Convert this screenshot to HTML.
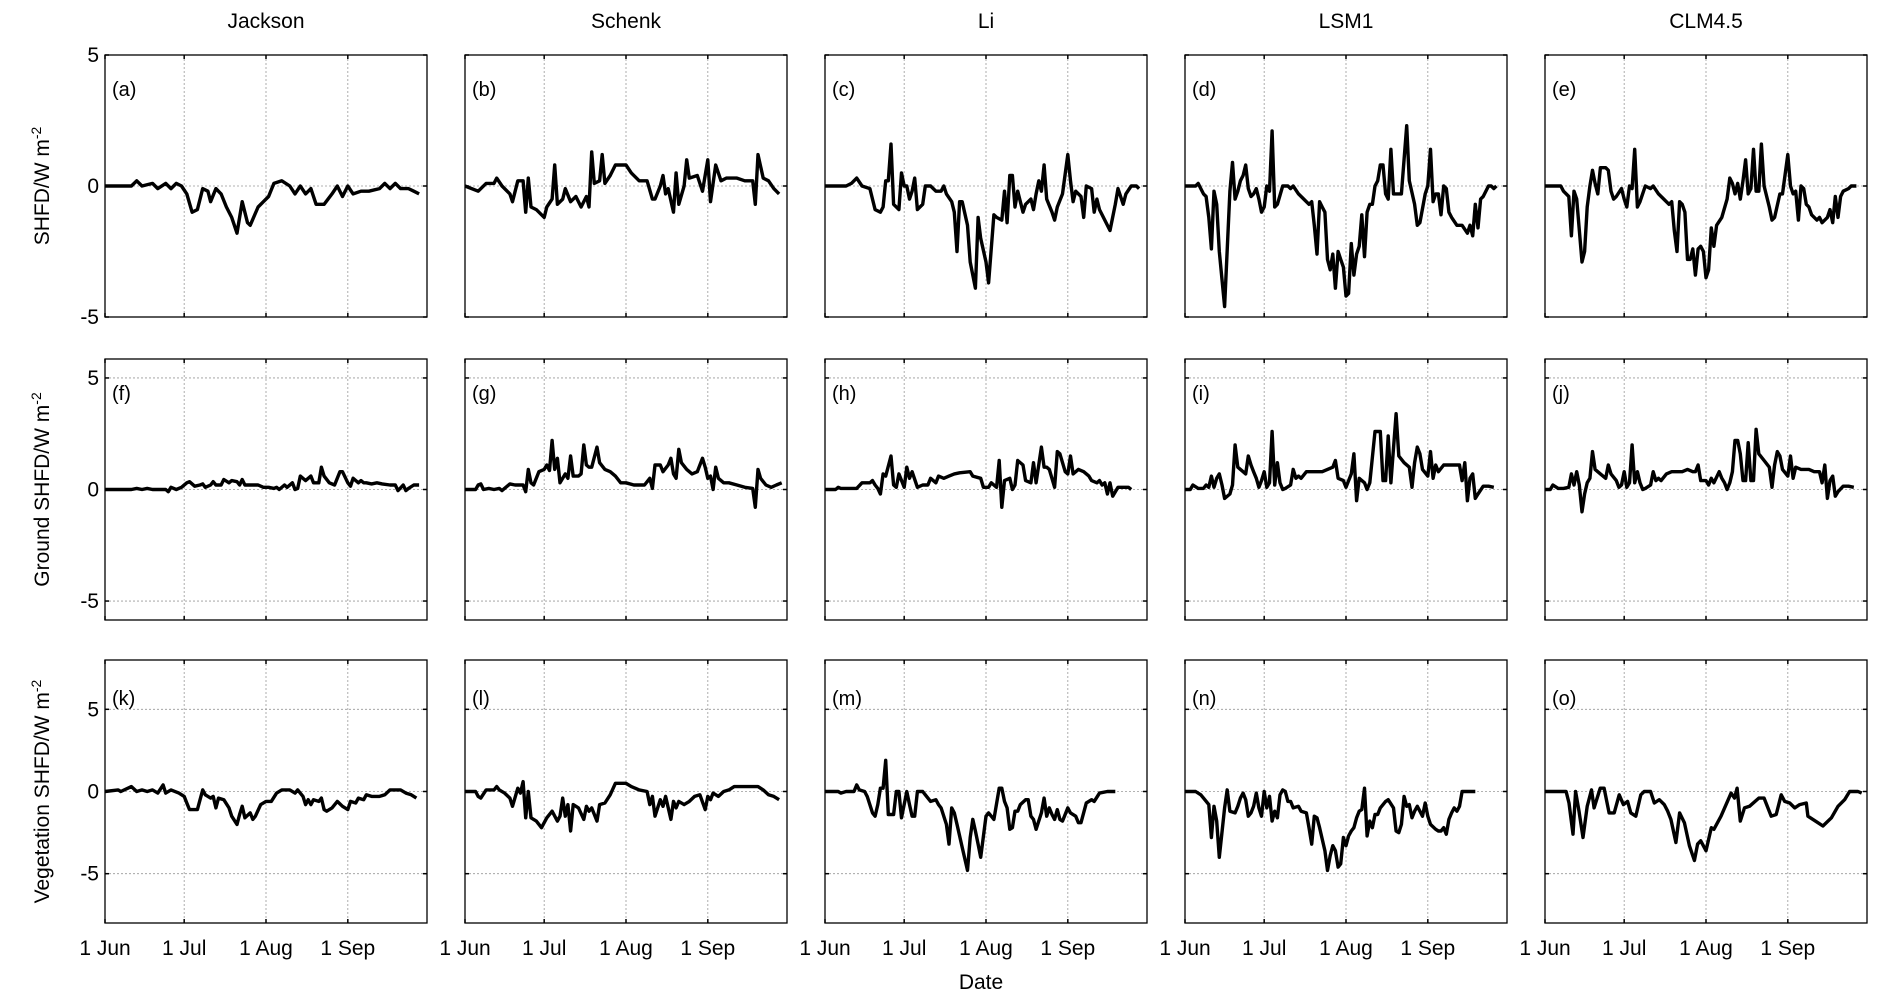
<!DOCTYPE html>
<html><head><meta charset="utf-8">
<style>
html,body{margin:0;padding:0;background:#fff;}
svg{display:block;font-family:"Liberation Sans",Arial,sans-serif;}
</style></head>
<body>
<svg id="fig" width="1888" height="1004" viewBox="0 0 1888 1004" xmlns="http://www.w3.org/2000/svg"></svg>
<script>
// ---- data (day index from 1 Jun, value in W m-2) ----
const columnTitles = ["Jackson","Schenk","Li","LSM1","CLM4.5"];
const rowTitles = ["SHFD/W m","Ground SHFD/W m","Vegetation SHFD/W m"];
const panelLetters = ["a","b","c","d","e","f","g","h","i","j","k","l","m","n","o"];
const xTickDays = [0,30,61,92];
const xTickLabels = ["1 Jun","1 Jul","1 Aug","1 Sep"];
const yTickValues = [5,0,-5];
const yTickLabels = ["5","0","-5"];
const yLimits = [5,5.85,8];

const daysA=[0,10,12,14,18,20,23,25,27,29,31,33,35,37,39,40,42,44,46,48,50,52,54,55,58,60,62,64,67,70,72,74,76,78,80,83,86,88,90,92,94,97,100,104,106,108,110,112,115,117,119];
const valsA=[0,0,0.2,0,0.1,-0.1,0.1,-0.1,0.1,0,-0.3,-1.0,-0.9,-0.1,-0.2,-0.6,-0.1,-0.3,-0.8,-1.2,-1.8,-0.6,-1.4,-1.5,-0.8,-0.6,-0.4,0.1,0.2,0,-0.3,0,-0.3,-0.1,-0.7,-0.7,-0.3,0,-0.4,0,-0.3,-0.2,-0.2,-0.1,0.1,-0.1,0.1,-0.1,-0.1,-0.2,-0.3];
const daysB=[0,5,8,11,12,14,17,18,20,22,23,24,25,27,30,31,33,34,35,37,38,40,42,44,46,47,48,49,51,52,53,55,57,59,61,63,66,69,71,72,74,75,76,77,79,80,81,83,84,85,88,90,92,93,95,97,99,103,106,109,110,111,113,115,117,119];
const valsB=[0,-0.2,0.1,0.1,0.3,0,-0.3,-0.6,0.2,0.2,-1.0,0.3,-0.8,-0.9,-1.2,-0.8,-0.5,0.8,-0.7,-0.5,-0.1,-0.6,-0.4,-0.8,-0.4,-0.8,1.3,0.1,0.2,1.2,0.1,0.4,0.8,0.8,0.8,0.5,0.2,0.2,-0.5,-0.5,0,0.4,-0.3,-0.1,-1.0,0.5,-0.7,0,1.0,0.3,0.4,-0.2,1.0,-0.6,0.8,0.2,0.3,0.3,0.2,0.2,-0.7,1.2,0.3,0.2,-0.1,-0.3];
const daysC=[0,8,10,12,14,17,19,21,22,23,24,25,26,28,29,30,31,32,33,34,35,37,38,40,42,44,45,46,48,49,50,51,52,54,55,57,58,59,61,62,64,65,67,68,69,70,71,72,73,75,76,78,79,80,81,82,83,84,86,87,88,90,92,93,94,95,97,98,99,101,102,103,104,106,108,110,111,113,114,116,118,119];
const valsC=[0,0,0.1,0.3,0,-0.1,-0.9,-1.0,-0.8,0.2,0.2,1.6,-0.7,-0.9,0.5,0,0,-0.5,-0.2,0.3,-0.9,-0.7,0,0,-0.2,-0.2,0,-0.3,-0.6,-1.0,-2.5,-0.6,-0.6,-1.5,-2.9,-3.9,-1.2,-2.0,-2.9,-3.7,-1.1,-1.2,-1.3,-0.2,-1.4,0.4,0.4,-0.8,-0.2,-1.0,-0.7,-0.5,-0.9,-0.3,0.2,-0.2,0.8,-0.5,-1.0,-1.3,-0.8,-0.3,1.2,0.2,-0.6,-0.2,-0.4,-1.2,0,-0.1,-1.0,-0.5,-0.9,-1.3,-1.7,-0.7,-0.1,-0.7,-0.3,0,0,-0.1];
const daysD=[0,4,5,6,7,8,9,10,11,12,13,15,17,18,19,20,21,22,23,24,25,26,27,28,29,30,31,32,33,34,35,37,39,40,41,43,45,47,48,49,50,51,52,53,54,55,56,57,58,59,60,61,62,63,64,65,66,67,68,69,70,71,72,73,74,75,76,77,78,79,80,82,84,85,87,88,89,91,92,93,94,95,96,97,98,99,100,101,103,105,107,108,109,110,111,112,113,115,116,117,118];
const valsD=[0,0,0.1,-0.1,-0.3,-0.4,-1.2,-2.4,-0.2,-0.7,-2.5,-4.6,-0.2,0.9,-0.5,-0.2,0.2,0.4,0.8,-0.1,-0.4,-0.3,-0.1,-0.5,-1.0,-0.8,0,-0.2,2.1,-0.8,-0.7,0,0,-0.1,0,-0.3,-0.5,-0.7,-0.6,-1.5,-2.6,-0.6,-0.8,-1.0,-2.8,-3.2,-2.6,-3.9,-2.5,-2.8,-3.1,-4.2,-4.1,-2.2,-3.4,-2.6,-2.3,-1.1,-2.7,-1.0,-0.7,-0.7,0,0.2,0.8,0.8,-0.3,-0.5,1.4,-0.3,-0.3,-0.3,2.3,0.2,-0.7,-1.5,-1.4,-0.3,0,1.4,-0.6,-0.3,-0.3,-1.1,0,-0.1,-1.0,-1.2,-1.5,-1.5,-1.8,-1.5,-1.9,-0.7,-1.6,-0.5,-0.4,0,0,-0.1,0];
const daysE=[0,4,6,7,9,10,11,12,14,15,16,17,18,19,20,21,23,24,25,26,27,29,30,31,32,33,34,35,36,38,40,41,43,45,47,48,49,50,51,52,53,54,55,56,57,58,59,60,61,62,63,64,65,67,69,70,71,72,73,74,75,76,77,78,79,80,81,82,83,85,86,87,89,90,92,93,94,95,96,97,98,99,100,101,103,104,105,107,108,109,110,111,112,113,115,116,118];
const valsE=[0,0,0,-0.2,-0.4,-1.9,-0.2,-0.5,-2.9,-2.5,-0.8,0,0.6,0.1,-0.3,0.7,0.7,0.6,-0.2,-0.5,-0.4,-0.1,-0.5,-0.8,0,-0.1,1.4,-0.8,-0.6,0,-0.1,0,-0.3,-0.5,-0.7,-0.6,-1.7,-2.5,-0.6,-0.7,-1.0,-2.8,-2.8,-2.4,-3.4,-2.4,-2.3,-2.5,-3.5,-3.2,-1.6,-2.3,-1.5,-1.2,-0.5,0.3,0.1,-0.3,0.1,-0.5,0.2,1.0,-0.3,-0.1,1.4,-0.2,-0.2,1.6,0,-0.8,-1.3,-1.2,-0.3,-0.3,1.2,0,-0.3,-0.2,-1.3,0,-0.1,-0.7,-0.8,-1.1,-1.3,-1.2,-1.4,-1.2,-0.9,-1.4,-0.4,-1.2,-0.4,-0.2,-0.1,0,0];
const daysF=[0,10,12,14,16,18,23,24,25,27,29,31,32,34,36,37,38,40,41,42,44,45,47,48,50,51,52,53,55,58,60,62,64,65,66,68,69,71,72,73,74,76,78,79,81,82,83,85,87,89,90,92,93,94,96,97,98,99,101,103,105,108,110,111,113,114,115,117,119];
const valsF=[0,0,0.05,0,0.05,0,0,-0.1,0.1,0,0.1,0.3,0.35,0.15,0.2,0.25,0.1,0.2,0.35,0.2,0.2,0.45,0.3,0.4,0.35,0.2,0.45,0.2,0.2,0.2,0.1,0.1,0.05,0.1,0,0.2,0.1,0.3,0,0.05,0.6,0.4,0.6,0.3,0.3,1.0,0.6,0.3,0.2,0.8,0.8,0.3,0.15,0.5,0.3,0.4,0.3,0.3,0.25,0.3,0.25,0.2,0.2,-0.05,0.2,-0.05,0.05,0.2,0.2];
const daysG=[0,4,5,6,7,9,11,13,14,17,19,22,23,24,25,26,28,30,31,32,33,34,35,36,38,39,40,41,43,44,45,46,47,48,50,51,53,55,57,59,61,64,68,70,71,72,74,75,77,78,79,80,81,82,84,86,88,90,91,92,93,94,95,96,98,100,103,106,109,110,111,112,114,116,118,120];
const valsG=[0,0,0.2,0.25,0,0.05,0,0.05,-0.05,0.25,0.2,0.2,-0.1,0.9,0.3,0.2,0.8,0.9,1.1,0.85,2.2,0.9,1.4,0.3,0.7,0.5,1.5,0.6,0.6,0.7,2.0,1.1,1.0,1.0,1.9,1.2,0.9,0.8,0.6,0.3,0.3,0.2,0.2,0.5,0.05,1.1,1.1,0.8,1.1,1.4,0.7,0.5,1.8,1.2,0.9,0.7,0.8,1.4,1.0,0.5,0.6,0,1.0,0.5,0.3,0.3,0.2,0.1,0.05,-0.8,0.9,0.5,0.2,0.1,0.2,0.3];
const daysH=[0,4,5,6,12,14,17,18,19,20,21,22,23,25,26,27,28,30,31,32,33,35,37,39,40,42,43,45,47,49,51,55,56,59,60,62,63,65,66,67,68,70,71,72,73,75,76,78,79,80,82,83,84,85,87,88,89,91,92,93,94,96,98,100,101,103,104,105,106,107,108,109,111,113,115,116];
const valsH=[0,0,0.1,0.05,0.05,0.3,0.3,0.4,0.2,0.05,-0.2,0.7,0.6,1.5,0.2,0.1,0.7,0.1,1.0,0.5,0.8,0.1,0.2,0.2,0.5,0.3,0.6,0.5,0.6,0.7,0.75,0.8,0.6,0.5,0.1,0.1,0.3,0.1,1.3,-0.8,0.4,0.5,0,0.2,1.3,1.1,0.4,0.3,1.2,0.3,1.9,1.0,1.0,0.9,0.1,1.7,1.6,0.8,0.7,1.5,0.7,0.9,0.8,0.6,0.4,0.3,0.4,0.2,0.3,-0.2,0.3,-0.3,0.1,0.1,0.1,0];
const daysI=[0,2,3,5,7,8,9,10,11,12,13,14,15,17,18,19,20,22,23,24,25,26,27,28,29,30,31,32,33,34,35,36,37,38,40,41,42,43,44,46,48,50,52,54,56,57,58,60,61,63,64,65,66,68,69,70,72,74,75,76,77,78,80,81,83,85,86,87,88,89,90,92,93,94,95,96,98,104,105,106,107,108,109,110,111,113,115,117];
const valsI=[0,0,0.2,0.05,0.05,0.2,0.1,0.6,0.1,0.5,0.7,0.2,-0.4,-0.2,0.2,2.0,1.0,0.8,0.7,1.5,1.1,0.8,0.5,0.1,0.4,0.8,0.1,0.3,2.6,0.2,1.2,0.3,0,0.05,0.2,0.9,0.5,0.6,0.5,0.8,0.8,0.8,0.8,0.9,1.0,1.3,0.5,0.4,0.1,0.7,1.6,-0.5,0.5,0.3,0,0.3,2.6,2.6,0.4,0.4,2.4,0.3,3.4,1.5,1.2,1.0,0.1,1.2,1.9,1.6,0.9,0.6,1.7,0.5,1.1,0.8,1.1,1.1,0.4,1.2,-0.5,0.5,0.7,-0.4,-0.2,0.15,0.15,0.1];
const daysJ=[0,2,3,5,7,9,10,11,12,13,14,15,16,17,18,19,21,23,24,25,27,28,29,30,31,32,33,34,35,36,37,38,40,41,42,43,44,46,48,50,52,54,56,57,58,59,61,62,63,64,66,67,68,69,70,71,72,73,74,75,76,77,78,79,80,81,83,85,86,87,88,89,90,92,93,94,95,97,100,102,104,105,106,107,108,109,110,111,113,115,117];
const valsJ=[0,0,0.2,0.05,0.05,0.1,0.7,0.2,0.8,0.2,-1.0,-0.2,0.3,0.5,1.7,0.9,0.7,0.5,1.1,0.7,0.4,0.1,0.2,0.8,0.1,0.3,2.0,0.3,0.8,0.3,0,0.05,0.2,0.8,0.4,0.5,0.4,0.7,0.8,0.8,0.8,0.9,0.8,0.8,1.1,0.4,0.4,0.2,0.5,0.3,0.8,0.5,0.3,0,0.3,0.8,2.2,2.2,1.6,0.4,0.4,2.1,0.4,0.4,2.7,1.6,1.3,1.0,0.1,1.1,1.7,1.5,0.9,0.6,1.5,0.5,1.0,0.9,0.9,0.8,0.8,0.3,1.1,-0.4,0.4,0.6,-0.3,-0.1,0.15,0.15,0.1];
const daysK=[0,5,6,10,12,14,16,18,20,22,23,25,28,30,31,32,35,37,38,40,41,42,43,45,47,48,50,51,52,53,55,56,57,59,61,63,65,67,70,72,73,75,76,77,78,79,81,82,83,84,86,88,90,92,93,95,96,98,99,101,104,106,108,112,114,116,118];
const valsK=[0,0.1,0,0.3,0,0.1,0,0.1,-0.1,0.4,-0.1,0.1,-0.1,-0.3,-0.7,-1.1,-1.1,0.1,-0.2,-0.4,-0.3,-1.0,-0.4,-0.5,-1.0,-1.5,-2.0,-1.4,-0.9,-1.6,-1.3,-1.7,-1.5,-0.8,-0.6,-0.6,-0.1,0.1,0.1,-0.1,0.1,-0.3,-0.8,-0.5,-0.8,-0.5,-0.6,-0.4,-1.1,-1.2,-1.0,-0.6,-0.9,-1.1,-0.6,-0.7,-0.4,-0.5,-0.2,-0.3,-0.3,-0.2,0.1,0.1,-0.1,-0.2,-0.4];
const daysL=[0,4,5,6,8,11,12,13,15,17,18,20,21,22,23,24,25,27,29,31,33,35,36,37,38,39,40,41,43,45,46,47,48,50,51,53,55,57,59,61,63,66,69,70,71,72,74,75,76,78,79,80,81,83,85,87,89,91,92,93,94,96,98,100,102,105,108,111,113,115,117,119];
const valsL=[0,0,-0.3,-0.4,0.1,0.1,0.3,0.1,-0.1,-0.4,-0.9,0.2,-0.1,0.6,-1.6,0,-1.6,-1.8,-2.2,-1.6,-1.2,-1.8,-1.5,-0.4,-1.5,-0.8,-2.4,-0.8,-1.0,-1.7,-0.9,-1.2,-1.0,-1.8,-0.8,-0.7,-0.2,0.5,0.5,0.5,0.3,0.1,0,-0.8,-0.3,-1.5,-0.5,-0.9,-0.3,-1.7,-0.6,-1.0,-0.6,-0.8,-0.6,-0.3,-0.2,-1.1,-0.3,-0.5,-0.1,-0.3,0,0.1,0.3,0.3,0.3,0.3,0.1,-0.2,-0.3,-0.5];
const daysM=[0,5,6,8,11,12,13,15,16,18,19,20,21,22,23,24,26,27,28,29,31,32,33,34,35,37,38,40,42,43,44,46,47,48,49,50,52,54,55,56,57,58,59,61,62,63,64,66,67,68,69,70,71,72,73,74,76,77,78,79,80,82,83,84,85,86,87,88,89,90,92,93,95,96,97,99,101,102,104,107,110];
const valsM=[0,0,-0.1,0,0,0.4,0.1,0,-0.3,-1.3,-1.5,-0.8,0.2,0.2,1.9,-1.4,-1.4,0,0,-1.6,0,-0.8,-1.5,-1.5,0,0,-0.2,-0.6,-0.5,-0.8,-1.0,-2.0,-3.2,-1.0,-1.3,-2.0,-3.4,-4.8,-2.8,-1.7,-2.4,-3.2,-4.0,-1.5,-1.3,-1.5,-1.7,0.2,0.2,-0.6,-1.0,-2.3,-2.2,-1.2,-1.2,-0.8,-0.5,-0.5,-1.5,-1.7,-2.3,-1.3,-0.4,-1.5,-1.0,-1.4,-1.7,-1.1,-1.7,-1.8,-1.0,-1.3,-1.5,-1.9,-1.9,-0.7,-0.5,-0.6,-0.1,0,0];
const daysN=[0,4,6,7,9,10,11,12,13,15,16,17,19,20,21,22,23,24,25,26,27,28,29,30,31,32,33,34,35,36,37,38,39,40,41,43,44,46,47,48,49,50,51,53,54,55,56,57,58,59,60,61,62,63,64,65,66,67,68,69,70,71,72,73,74,76,77,79,80,81,82,83,84,85,86,87,88,89,90,91,92,93,95,96,97,98,99,100,101,102,103,104,105,107,109,110];
const valsN=[0,0,-0.2,-0.4,-0.8,-2.8,-0.9,-1.8,-4.0,-1.0,0.1,-1.2,-1.3,-0.9,-0.4,-0.1,-0.5,-1.5,-1.3,-0.9,-0.1,-1.0,-1.5,0,-1.0,-0.3,-1.8,-1.2,-1.6,-0.2,0.1,0,-0.6,-0.6,-1.0,-0.9,-1.2,-1.3,-2.2,-3.2,-1.5,-1.6,-2.2,-3.6,-4.8,-3.9,-3.3,-3.6,-4.6,-4.4,-2.8,-3.3,-2.7,-2.4,-2.2,-1.6,-1.2,-1.1,0.2,-2.7,-1.8,-2.2,-1.4,-1.4,-1.0,-0.6,-0.5,-1.0,-2.4,-2.5,-2.0,-0.3,-0.9,-0.8,-1.6,-1.2,-0.9,-1.2,-1.5,-0.7,-1.5,-2.0,-2.3,-2.4,-2.4,-2.2,-2.6,-1.7,-1.3,-1.0,-1.2,-0.9,0,0,0,0];
const daysO=[0,4.7,8,9.1,10.6,11.6,12.9,14.4,16,17.6,18.6,20.9,22.4,24.3,26.2,28.1,29.7,31.3,32.5,34.4,36.3,37.6,40,41.4,43.3,45.2,46.5,47.7,49.6,51,52.8,54.7,56.6,57.8,59,61,63,64,66.7,70.5,71.8,72.8,74,75.6,77.5,81,83,85.7,87.6,89.5,90.8,92.7,94.6,96.5,99,99.6,103.4,105.3,108.5,111,113.5,115.4,118.6,120];
const valsO=[0,0,0,-0.7,-2.6,0,-1.2,-2.8,-0.9,0.1,-1.0,0.2,0.2,-1.3,-1.3,-0.2,-0.8,-0.6,-1.3,-1.5,-0.2,0,0,-0.7,-0.5,-0.8,-1.2,-1.7,-3.1,-1.3,-1.9,-3.3,-4.2,-3.2,-3.0,-3.6,-2.2,-2.3,-1.5,-0.1,-0.4,0.2,-1.8,-1.0,-0.9,-0.4,-0.4,-1.5,-1.4,-0.2,-0.6,-0.7,-1.0,-0.8,-0.7,-1.5,-1.9,-2.1,-1.6,-0.9,-0.5,0,0,-0.1];

const panelDays=[daysA,daysB,daysC,daysD,daysE,daysF,daysG,daysH,daysI,daysJ,daysK,daysL,daysM,daysN,daysO];
const panelVals=[valsA,valsB,valsC,valsD,valsE,valsF,valsG,valsH,valsI,valsJ,valsK,valsL,valsM,valsN,valsO];

// ---- layout ----
const NS="http://www.w3.org/2000/svg";
const svg=document.getElementById('fig');
const colLeft=[105,465,825,1185,1545], panelW=322;
const rowTop=[55,359,660], rowH=[262,261,263];
const dayMax=122;
function mk(tag,attrs,parent){const e=document.createElementNS(NS,tag);for(const k in attrs)e.setAttribute(k,attrs[k]);(parent||svg).appendChild(e);return e;}

for(let c=0;c<5;c++){
  const t=mk('text',{x:colLeft[c]+panelW/2,y:28,'text-anchor':'middle','font-size':21,fill:'#000'});
  t.textContent=columnTitles[c];
  
  
}
for(let r=0;r<3;r++){
  const cy=rowTop[r]+rowH[r]/2;
  const t=mk('text',{x:0,y:0,'text-anchor':'middle','font-size':21,fill:'#000',transform:`translate(49,${cy}) rotate(-90)`});
  t.textContent=rowTitles[r];
  const sup=document.createElementNS(NS,'tspan');sup.setAttribute('dy',-8);sup.setAttribute('font-size',14);sup.textContent='-2';t.appendChild(sup);
  
  
}
const dl=mk('text',{x:981,y:989,'text-anchor':'middle','font-size':21,fill:'#000'});
dl.textContent='Date';



for(let r=0;r<3;r++){
  for(let c=0;c<5;c++){
    const idx=r*5+c;
    const x0=colLeft[c], y0=rowTop[r], h=rowH[r], lim=yLimits[r];
    const xs=d=>x0+d/dayMax*panelW;
    const ys=v=>y0+(lim-v)/(2*lim)*h;
    const g=mk('g',{});
    
    
    // grid
    xTickDays.forEach((d,i)=>{ if(d>0){ const l=mk('line',{x1:xs(d),x2:xs(d),y1:y0,y2:y0+h,stroke:'#999','stroke-width':0.8,'stroke-dasharray':'2,2'},g);   }});
    yTickValues.forEach(v=>{ if(Math.abs(v)<lim-0.01){ const l=mk('line',{x1:x0,x2:x0+panelW,y1:ys(v),y2:ys(v),stroke:'#999','stroke-width':0.8,'stroke-dasharray':'2,2'},g);   }});
    // box
    const box=mk('rect',{x:x0,y:y0,width:panelW,height:h,fill:'none',stroke:'#000','stroke-width':1.3},g);
    
    
    // ticks
    xTickDays.forEach(d=>{ mk('line',{x1:xs(d),x2:xs(d),y1:y0+h,y2:y0+h-4,stroke:'#000','stroke-width':1.5},g); mk('line',{x1:xs(d),x2:xs(d),y1:y0,y2:y0+4,stroke:'#000','stroke-width':1.5},g); });
    yTickValues.forEach(v=>{ mk('line',{x1:x0,x2:x0+4,y1:ys(v),y2:ys(v),stroke:'#000','stroke-width':1.5},g); mk('line',{x1:x0+panelW,x2:x0+panelW-4,y1:ys(v),y2:ys(v),stroke:'#000','stroke-width':1.5},g); });
    if(c===0){
      yTickValues.forEach((v,i)=>{ const t=mk('text',{x:x0-6,y:ys(v)+7,'text-anchor':'end','font-size':21,fill:'#000'},g); t.textContent=yTickLabels[i];
        
         });
    }
    if(r===2){
      xTickDays.forEach((d,i)=>{ const t=mk('text',{x:xs(d),y:955,'text-anchor':'middle','font-size':21,fill:'#000'},g); t.textContent=xTickLabels[i];
        
         });
    }
    const lab=mk('text',{x:x0+7,y:y0+(r===0?41:(r===1?41:45)),'font-size':20,fill:'#000'},g);
    lab.textContent='('+panelLetters[idx]+')';
    
    
    // series
    const ds=panelDays[idx], vs=panelVals[idx];
    let p='';
    for(let i=0;i<ds.length;i++){ p+=(i?'L':'M')+xs(ds[i]).toFixed(1)+','+ys(vs[i]).toFixed(1); }
    const path=mk('path',{d:p,fill:'none',stroke:'#000','stroke-width':3.4,'stroke-linejoin':'round'},g);
    
    
  }
}
</script>
</body></html>
